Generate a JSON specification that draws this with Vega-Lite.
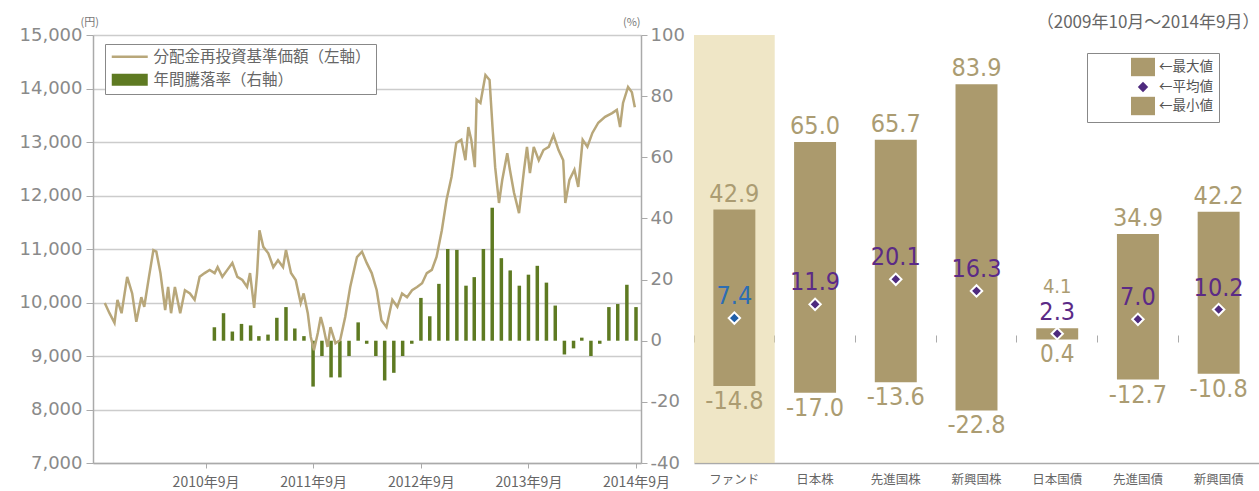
{
  "$schema": "https://vega.github.io/schema/vega-lite/v6.json",
  "autosize": "none",
  "padding": {"left": 93, "top": 35, "right": 1166, "bottom": 456},
  "bounds": "flush",
  "spacing": 53,
  "config": {
    "view": {"stroke": null},
    "font": "Noto Sans CJK JP",
    "locale": {"number": {"decimal": ".", "thousands": ",", "grouping": [3], "currency": ["", ""], "minus": "-"}},
    "axis": {"titleFontWeight": "normal", "titleFont": "Noto Sans CJK JP", "labelFont": "Noto Sans CJK JP"},
    "legend": {"symbolOpacity": 1, "symbolStrokeWidth": 0, "labelLimit": 0}
  },
  "datasets": {
    "nav": [
      {"date": "2009-09-24", "nav": 9990}, {"date": "2009-10-10", "nav": 9800}, {"date": "2009-10-27", "nav": 9620},
      {"date": "2009-11-06", "nav": 10050}, {"date": "2009-11-20", "nav": 9800}, {"date": "2009-12-09", "nav": 10480},
      {"date": "2009-12-26", "nav": 10170}, {"date": "2010-01-09", "nav": 9640}, {"date": "2010-01-26", "nav": 10100},
      {"date": "2010-02-05", "nav": 9920}, {"date": "2010-02-21", "nav": 10480}, {"date": "2010-03-08", "nav": 10980},
      {"date": "2010-03-18", "nav": 10950}, {"date": "2010-04-01", "nav": 10550}, {"date": "2010-04-17", "nav": 9860},
      {"date": "2010-04-27", "nav": 10290}, {"date": "2010-05-07", "nav": 9800}, {"date": "2010-05-20", "nav": 10290},
      {"date": "2010-06-07", "nav": 9800}, {"date": "2010-06-23", "nav": 10230}, {"date": "2010-07-10", "nav": 10170},
      {"date": "2010-07-26", "nav": 10050}, {"date": "2010-08-12", "nav": 10480}, {"date": "2010-08-29", "nav": 10550},
      {"date": "2010-09-15", "nav": 10610}, {"date": "2010-10-02", "nav": 10550}, {"date": "2010-10-12", "nav": 10660},
      {"date": "2010-10-28", "nav": 10480}, {"date": "2010-11-14", "nav": 10610}, {"date": "2010-12-01", "nav": 10740},
      {"date": "2010-12-18", "nav": 10480}, {"date": "2011-01-04", "nav": 10420}, {"date": "2011-01-20", "nav": 10290},
      {"date": "2011-01-30", "nav": 10550}, {"date": "2011-02-13", "nav": 9900}, {"date": "2011-02-23", "nav": 10550},
      {"date": "2011-03-03", "nav": 11350}, {"date": "2011-03-16", "nav": 11040}, {"date": "2011-04-02", "nav": 10920},
      {"date": "2011-04-19", "nav": 10660}, {"date": "2011-05-05", "nav": 10790}, {"date": "2011-05-22", "nav": 10660},
      {"date": "2011-06-01", "nav": 10980}, {"date": "2011-06-18", "nav": 10550}, {"date": "2011-07-04", "nav": 10420},
      {"date": "2011-07-21", "nav": 9990}, {"date": "2011-07-31", "nav": 10170}, {"date": "2011-08-14", "nav": 9800},
      {"date": "2011-08-24", "nav": 9360}, {"date": "2011-09-04", "nav": 9110}, {"date": "2011-09-17", "nav": 9430},
      {"date": "2011-09-27", "nav": 9730}, {"date": "2011-10-06", "nav": 9540}, {"date": "2011-10-20", "nav": 9170},
      {"date": "2011-10-30", "nav": 9540}, {"date": "2011-11-16", "nav": 9240}, {"date": "2011-12-02", "nav": 9300},
      {"date": "2011-12-19", "nav": 9730}, {"date": "2012-01-05", "nav": 10290}, {"date": "2012-01-28", "nav": 10850},
      {"date": "2012-02-14", "nav": 10950}, {"date": "2012-03-01", "nav": 10740}, {"date": "2012-03-18", "nav": 10550},
      {"date": "2012-04-04", "nav": 10230}, {"date": "2012-04-20", "nav": 9670}, {"date": "2012-05-07", "nav": 9540},
      {"date": "2012-05-27", "nav": 10050}, {"date": "2012-06-13", "nav": 9920}, {"date": "2012-06-29", "nav": 10170},
      {"date": "2012-07-16", "nav": 10100}, {"date": "2012-08-02", "nav": 10230}, {"date": "2012-08-19", "nav": 10290},
      {"date": "2012-09-05", "nav": 10360}, {"date": "2012-09-21", "nav": 10550}, {"date": "2012-10-08", "nav": 10610},
      {"date": "2012-10-24", "nav": 10850}, {"date": "2012-11-11", "nav": 11350}, {"date": "2012-11-27", "nav": 11920},
      {"date": "2012-12-14", "nav": 12350}, {"date": "2012-12-30", "nav": 12980}, {"date": "2013-01-16", "nav": 13040},
      {"date": "2013-01-30", "nav": 12660}, {"date": "2013-02-09", "nav": 13280}, {"date": "2013-02-19", "nav": 13040},
      {"date": "2013-03-03", "nav": 12530}, {"date": "2013-03-09", "nav": 13790}, {"date": "2013-03-22", "nav": 13730},
      {"date": "2013-04-08", "nav": 14250}, {"date": "2013-04-22", "nav": 14160}, {"date": "2013-05-02", "nav": 13280},
      {"date": "2013-05-11", "nav": 12530}, {"date": "2013-05-24", "nav": 11860}, {"date": "2013-06-04", "nav": 12290},
      {"date": "2013-06-21", "nav": 12790}, {"date": "2013-06-30", "nav": 12480}, {"date": "2013-07-14", "nav": 12050},
      {"date": "2013-07-31", "nav": 11670}, {"date": "2013-08-17", "nav": 12480}, {"date": "2013-08-27", "nav": 12910},
      {"date": "2013-09-06", "nav": 12420}, {"date": "2013-09-19", "nav": 12910}, {"date": "2013-10-06", "nav": 12660},
      {"date": "2013-10-22", "nav": 12850}, {"date": "2013-11-09", "nav": 12910}, {"date": "2013-11-25", "nav": 13130},
      {"date": "2013-12-12", "nav": 12850}, {"date": "2013-12-28", "nav": 12660}, {"date": "2014-01-04", "nav": 11860},
      {"date": "2014-01-18", "nav": 12290}, {"date": "2014-02-04", "nav": 12480}, {"date": "2014-02-17", "nav": 12160},
      {"date": "2014-03-04", "nav": 13040}, {"date": "2014-03-20", "nav": 12910}, {"date": "2014-04-06", "nav": 13170},
      {"date": "2014-04-26", "nav": 13360}, {"date": "2014-05-19", "nav": 13470}, {"date": "2014-06-12", "nav": 13540},
      {"date": "2014-06-28", "nav": 13600}, {"date": "2014-07-09", "nav": 13280}, {"date": "2014-07-19", "nav": 13730},
      {"date": "2014-08-05", "nav": 14030}, {"date": "2014-08-18", "nav": 13930}, {"date": "2014-08-28", "nav": 13650}
    ],
    "rate": [
      {"date": "2010-10-01", "rate": 4.4}, {"date": "2010-11-01", "rate": 9}, {"date": "2010-12-01", "rate": 3},
      {"date": "2011-01-01", "rate": 5.5}, {"date": "2011-02-01", "rate": 5}, {"date": "2011-03-01", "rate": 1.5},
      {"date": "2011-04-01", "rate": 2}, {"date": "2011-05-01", "rate": 7.5}, {"date": "2011-06-01", "rate": 11},
      {"date": "2011-07-01", "rate": 4}, {"date": "2011-08-01", "rate": 1.5}, {"date": "2011-09-01", "rate": -15},
      {"date": "2011-10-01", "rate": -5}, {"date": "2011-11-01", "rate": -12}, {"date": "2011-12-01", "rate": -12},
      {"date": "2012-01-01", "rate": -5}, {"date": "2012-02-01", "rate": 6}, {"date": "2012-03-01", "rate": -1},
      {"date": "2012-04-01", "rate": -5}, {"date": "2012-05-01", "rate": -13}, {"date": "2012-06-01", "rate": -10.5},
      {"date": "2012-07-01", "rate": -5}, {"date": "2012-08-01", "rate": -1}, {"date": "2012-09-01", "rate": 14},
      {"date": "2012-10-01", "rate": 8}, {"date": "2012-11-01", "rate": 18.6}, {"date": "2012-12-01", "rate": 30},
      {"date": "2013-01-01", "rate": 29.7}, {"date": "2013-02-01", "rate": 18}, {"date": "2013-03-01", "rate": 20.8},
      {"date": "2013-04-01", "rate": 30}, {"date": "2013-05-01", "rate": 43.5}, {"date": "2013-06-01", "rate": 27},
      {"date": "2013-07-01", "rate": 23}, {"date": "2013-08-01", "rate": 18}, {"date": "2013-09-01", "rate": 21.6},
      {"date": "2013-10-01", "rate": 24.5}, {"date": "2013-11-01", "rate": 19}, {"date": "2013-12-01", "rate": 11.5},
      {"date": "2014-01-01", "rate": -4.5}, {"date": "2014-02-01", "rate": -2.5}, {"date": "2014-03-01", "rate": 1},
      {"date": "2014-04-01", "rate": -5}, {"date": "2014-05-01", "rate": -1}, {"date": "2014-06-01", "rate": 11},
      {"date": "2014-07-01", "rate": 12}, {"date": "2014-08-01", "rate": 18.3}, {"date": "2014-09-01", "rate": 11}
    ],
    "assets": [
      {"asset": "ファンド", "max": 42.9, "mean": 7.4, "min": -14.8},
      {"asset": "日本株", "max": 65.0, "mean": 11.9, "min": -17.0},
      {"asset": "先進国株", "max": 65.7, "mean": 20.1, "min": -13.6},
      {"asset": "新興国株", "max": 83.9, "mean": 16.3, "min": -22.8},
      {"asset": "日本国債", "max": 4.1, "mean": 2.3, "min": 0.4},
      {"asset": "先進国債", "max": 34.9, "mean": 7.0, "min": -12.7},
      {"asset": "新興国債", "max": 42.2, "mean": 10.2, "min": -10.8}
    ]
  },
  "resolve": {"scale": {"color": "independent", "shape": "independent"}, "legend": {"color": "independent", "shape": "independent"}},
  "hconcat": [
    {
      "width": 548,
      "height": 428,
      "layer": [
        {
          "data": {"name": "rate"},
          "mark": {"type": "bar", "width": 3.5, "color": "#5e7a22"},
          "encoding": {
            "x": {"field": "date", "type": "temporal",
              "scale": {"domain": [{"year": 2009, "month": 9, "date": 1}, {"year": 2014, "month": 9, "date": 1}]},
              "axis": {"title": null, "grid": false, "format": "%Y年%-m月", "formatType": "time",
                "values": [{"year": 2010, "month": 9, "date": 1}, {"year": 2011, "month": 9, "date": 1}, {"year": 2012, "month": 9, "date": 1}, {"year": 2013, "month": 9, "date": 1}, {"year": 2014, "month": 9, "date": 1}],
                "tickSize": 5, "tickColor": "#aaaaaa", "domainColor": "#aaaaaa", "domainWidth": 1.5,
                "labelFontSize": 14, "labelColor": "#666666", "labelPadding": 7, "labelFlush": false}},
            "y": {"field": "rate", "type": "quantitative",
              "scale": {"domain": [-40, 100], "nice": false, "zero": false},
              "axis": {"orient": "right", "values": [-40, -20, 0, 20, 40, 60, 80, 100], "grid": false,
                "tickSize": 6, "tickColor": "#aaaaaa", "domainColor": "#aaaaaa", "domainWidth": 1.5, "labelPadding": 3,
                "labelFont": "DejaVu Sans", "labelFontSize": 18, "labelColor": "#8a8a8a",
                "title": "(%)", "titleAngle": 0, "titleX": -1, "titleY": -13, "titleAlign": "right",
                "titleBaseline": "middle", "titleFontSize": 11, "titleColor": "#777777"}},
            "y2": {"datum": 0}
          }
        },
        {
          "data": {"name": "nav"},
          "mark": {"type": "line", "color": "#b8a77a", "strokeWidth": 2.5},
          "encoding": {
            "x": {"field": "date", "type": "temporal"},
            "y": {"field": "nav", "type": "quantitative",
              "scale": {"domain": [7000, 15000], "nice": false, "zero": false},
              "axis": {"orient": "left", "values": [7000, 8000, 9000, 10000, 11000, 12000, 13000, 14000, 15000],
                "format": ",.0f", "grid": true, "gridColor": "#cccccc", "gridWidth": 1.5,
                "tickSize": 7, "tickColor": "#aaaaaa", "domainColor": "#aaaaaa", "domainWidth": 1.5, "labelPadding": 4,
                "labelFont": "DejaVu Sans", "labelFontSize": 18, "labelColor": "#8a8a8a",
                "title": "(円)", "titleAngle": 0, "titleX": -13, "titleY": -13, "titleAlign": "left",
                "titleBaseline": "middle", "titleFontSize": 11, "titleColor": "#777777"}}
          }
        },
        {
          "data": {"name": "rate"},
          "mark": {"type": "point", "filled": true, "opacity": 0},
          "encoding": {
            "color": {"datum": "年間騰落率（右軸）", "type": "nominal",
              "scale": {"domain": ["分配金再投資基準価額（左軸）", "年間騰落率（右軸）"], "range": ["#b8a77a", "#5e7a22"]},
              "legend": {"title": null, "orient": "none", "legendX": 12, "legendY": 9, "strokeColor": "#888888",
                "fillColor": "#ffffff", "padding": 5, "symbolSize": 144, "labelOffset": 28, "rowPadding": 6, "labelLimit": 0,
                "labelFont": "Noto Sans CJK JP", "labelFontSize": 15.5, "labelColor": "#666666"}},
            "shape": {"datum": "年間騰落率（右軸）", "type": "nominal",
              "scale": {"domain": ["分配金再投資基準価額（左軸）", "年間騰落率（右軸）"], "range": ["M-1,-0.22H5V0.22H-1Z", "M-1,-1H5V1H-1Z"]},
              "legend": {"title": null, "orient": "none", "legendX": 12, "legendY": 9, "strokeColor": "#888888",
                "fillColor": "#ffffff", "padding": 5, "symbolSize": 144, "labelOffset": 28, "rowPadding": 6, "labelLimit": 0,
                "labelFont": "Noto Sans CJK JP", "labelFontSize": 15.5, "labelColor": "#666666"}}
          }
        }
      ],
      "resolve": {"scale": {"y": "independent"}}
    },
    {
      "width": 565,
      "height": 428,
      "data": {"name": "assets"},
      "layer": [
        {
          "transform": [{"filter": "datum.asset === 'ファンド'"}],
          "mark": {"type": "bar", "color": "#e6d9a8", "opacity": 0.65, "width": {"band": 1}},
          "encoding": {
            "x": {"field": "asset", "type": "nominal", "sort": null,
              "scale": {"domain": ["ファンド", "日本株", "先進国株", "新興国株", "日本国債", "先進国債", "新興国債"], "paddingInner": 0, "paddingOuter": 0},
              "axis": {"orient": "bottom", "title": null, "ticks": false, "grid": false, "domainColor": "#aaaaaa", "domainWidth": 1.5,
                "labelAngle": 0, "labelFontSize": 12.5, "labelColor": "#666666", "labelPadding": 10}}
          }
        },
        {
          "mark": {"type": "bar", "color": "#ab9a6d", "width": {"band": 0.52}},
          "encoding": {
            "x": {"field": "asset", "type": "nominal",
              "axis": {"orient": "top", "offset": -307, "labels": false, "domain": false, "grid": false,
                "ticks": true, "tickSize": 7, "tickColor": "#aaaaaa", "bandPosition": 0,
                "title": "（2009年10月〜2014年9月）", "titleX": 565, "titleY": -320, "titleAlign": "right",
                "titleAnchor": null, "titleBaseline": "middle", "titleFontSize": 17, "titleColor": "#666666"}},
            "y": {"field": "min", "type": "quantitative",
              "scale": {"domain": [-40, 100], "nice": false, "zero": false},
              "axis": {"orient": "left", "values": [-40, -20, 0, 20, 40, 60, 80, 100], "labels": false,
                "grid": true, "gridColor": "#cccccc", "gridWidth": 1.5,
                "tickSize": 6, "tickColor": "#aaaaaa", "domainColor": "#bbbbbb", "domainWidth": 1.5,
                "title": "(%)", "titleAngle": 0, "titleX": -1, "titleY": -13, "titleAlign": "left",
                "titleBaseline": "middle", "titleFontSize": 11, "titleColor": "#777777"}},
            "y2": {"field": "max"}
          }
        },
        {
          "transform": [{"filter": "datum.asset !== '日本国債'"}],
          "mark": {"type": "text", "baseline": "bottom", "dy": -3, "font": "Liberation Sans Narrow, DejaVu Sans Condensed, sans-serif", "fontSize": 25, "color": "#ab9c72"},
          "encoding": {
            "x": {"field": "asset", "type": "nominal", "axis": null},
            "y": {"field": "max", "type": "quantitative", "axis": null},
            "text": {"field": "max", "type": "quantitative", "format": ".1f"}
          }
        },
        {
          "transform": [{"filter": "datum.asset !== '日本国債'"}],
          "mark": {"type": "text", "baseline": "top", "dy": 3, "font": "Liberation Sans Narrow, DejaVu Sans Condensed, sans-serif", "fontSize": 25, "color": "#ab9c72"},
          "encoding": {
            "x": {"field": "asset", "type": "nominal", "axis": null},
            "y": {"field": "min", "type": "quantitative", "axis": null},
            "text": {"field": "min", "type": "quantitative", "format": ".1f"}
          }
        },
        {
          "transform": [{"filter": "datum.asset === '日本国債'"}],
          "mark": {"type": "text", "baseline": "bottom", "dy": -31, "font": "Liberation Sans Narrow, DejaVu Sans Condensed, sans-serif", "fontSize": 20, "color": "#ab9c72"},
          "encoding": {
            "x": {"field": "asset", "type": "nominal", "axis": null},
            "y": {"field": "max", "type": "quantitative", "axis": null},
            "text": {"field": "max", "type": "quantitative", "format": ".1f"}
          }
        },
        {
          "transform": [{"filter": "datum.asset === '日本国債'"}],
          "mark": {"type": "text", "baseline": "top", "dy": 4, "font": "Liberation Sans Narrow, DejaVu Sans Condensed, sans-serif", "fontSize": 24, "color": "#ab9c72"},
          "encoding": {
            "x": {"field": "asset", "type": "nominal", "axis": null},
            "y": {"field": "min", "type": "quantitative", "axis": null},
            "text": {"field": "min", "type": "quantitative", "format": ".1f"}
          }
        },
        {
          "mark": {"type": "text", "baseline": "bottom", "dy": -9, "font": "Liberation Sans Narrow, DejaVu Sans Condensed, sans-serif", "fontSize": 25},
          "encoding": {
            "x": {"field": "asset", "type": "nominal", "axis": null},
            "y": {"field": "mean", "type": "quantitative", "axis": null},
            "text": {"field": "mean", "type": "quantitative", "format": ".1f"},
            "color": {"condition": {"test": "datum.asset === 'ファンド'", "value": "#2c6db5"}, "value": "#5b2a86"}
          }
        },
        {
          "mark": {"type": "point", "shape": "diamond", "filled": true, "size": 130, "stroke": "#ffffff", "strokeWidth": 2, "opacity": 1},
          "encoding": {
            "x": {"field": "asset", "type": "nominal", "axis": null},
            "y": {"field": "mean", "type": "quantitative", "axis": null},
            "color": {"condition": {"test": "datum.asset === 'ファンド'", "value": "#1f5ea8"}, "value": "#4e2a7e"}
          }
        },
        {
          "mark": {"type": "point", "filled": true, "opacity": 0},
          "encoding": {
            "color": {"datum": "平均値", "type": "nominal",
              "scale": {"domain": ["最大値", "平均値", "最小値"], "range": ["#ab9a6d", "#4e2a7e", "#ab9a6d"]},
              "legend": {"title": null, "orient": "none", "legendX": 393, "legendY": 18, "strokeColor": "#888888",
                "fillColor": "#ffffff", "padding": 6, "symbolSize": 256, "symbolOffset": 38,
                "labelOffset": 12, "rowPadding": 2, "labelExpr": "'←' + datum.label",
                "labelFont": "Noto Sans CJK JP", "labelFontSize": 13.5, "labelColor": "#555555"}},
            "shape": {"datum": "平均値", "type": "nominal",
              "scale": {"domain": ["最大値", "平均値", "最小値"],
                "range": ["M-1,-1.15H2V1.15H-1Z", "M0.5,-0.65L1.15,0L0.5,0.65L-0.15,0Z", "M-1,-1.15H2V1.15H-1Z"]},
              "legend": {"title": null, "orient": "none", "legendX": 393, "legendY": 18, "strokeColor": "#888888",
                "fillColor": "#ffffff", "padding": 6, "symbolSize": 256, "symbolOffset": 38,
                "labelOffset": 12, "rowPadding": 2, "labelExpr": "'←' + datum.label",
                "labelFont": "Noto Sans CJK JP", "labelFontSize": 13.5, "labelColor": "#555555"}}
          }
        }
      ],
      "resolve": {"axis": {"x": "independent"}}
    }
  ]
}
